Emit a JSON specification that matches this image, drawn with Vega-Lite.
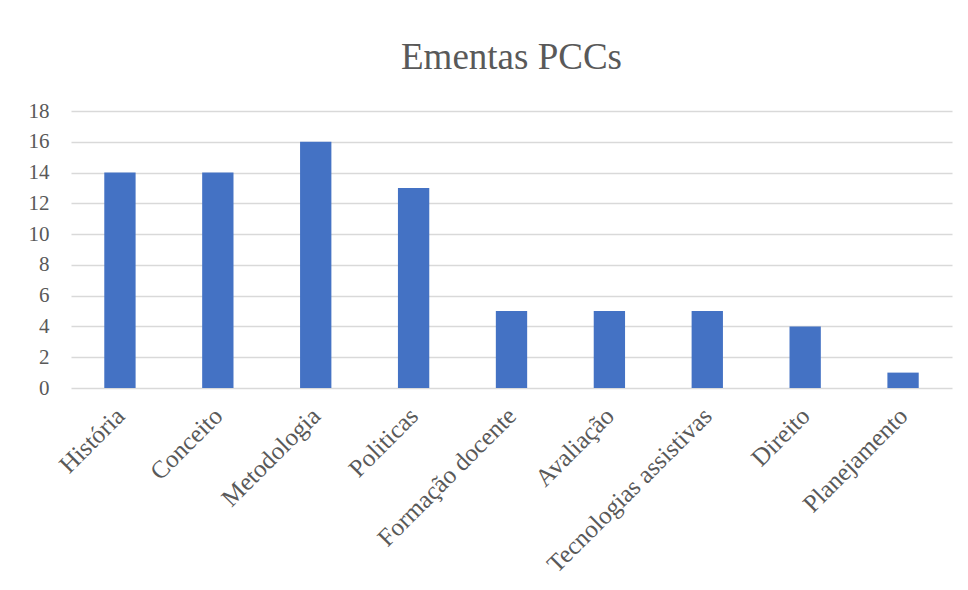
{
  "$schema": "https://vega.github.io/schema/vega-lite/v6.json",
  "width": 881,
  "height": 277,
  "autosize": "none",
  "padding": {"left": 71, "top": 111, "right": 16, "bottom": 202},
  "background": "white",
  "title": {
    "text": "Ementas PCCs",
    "font": "Liberation Serif",
    "fontSize": 37,
    "fontWeight": "normal",
    "color": "#595959",
    "anchor": "middle",
    "offset": 23
  },
  "data": {
    "values": [
      {"categoria": "História", "valor": 14},
      {"categoria": "Conceito", "valor": 14},
      {"categoria": "Metodologia", "valor": 16},
      {"categoria": "Politicas", "valor": 13},
      {"categoria": "Formação docente", "valor": 5},
      {"categoria": "Avaliação", "valor": 5},
      {"categoria": "Tecnologias assistivas", "valor": 5},
      {"categoria": "Direito", "valor": 4},
      {"categoria": "Planejamento", "valor": 1}
    ]
  },
  "mark": {"type": "bar", "color": "#4472C4"},
  "encoding": {
    "x": {
      "field": "categoria",
      "type": "nominal",
      "sort": null,
      "scale": {"paddingInner": 0.68, "paddingOuter": 0.34},
      "axis": {
        "title": null,
        "labelAngle": -45,
        "labelFont": "Liberation Serif",
        "labelFontSize": 25,
        "labelColor": "#595959",
        "labelPadding": 15,
        "labelOffset": -8,
        "labelLimit": 400,
        "ticks": false,
        "domain": false,
        "grid": false
      }
    },
    "y": {
      "field": "valor",
      "type": "quantitative",
      "scale": {"domain": [0, 18]},
      "axis": {
        "title": null,
        "values": [0, 2, 4, 6, 8, 10, 12, 14, 16, 18],
        "labelFont": "Liberation Serif",
        "labelFontSize": 21,
        "labelColor": "#595959",
        "labelPadding": 22,
        "ticks": false,
        "domain": false,
        "grid": true,
        "gridColor": "#d9d9d9",
        "gridWidth": 1.5
      }
    }
  },
  "config": {"view": {"stroke": null}}
}
